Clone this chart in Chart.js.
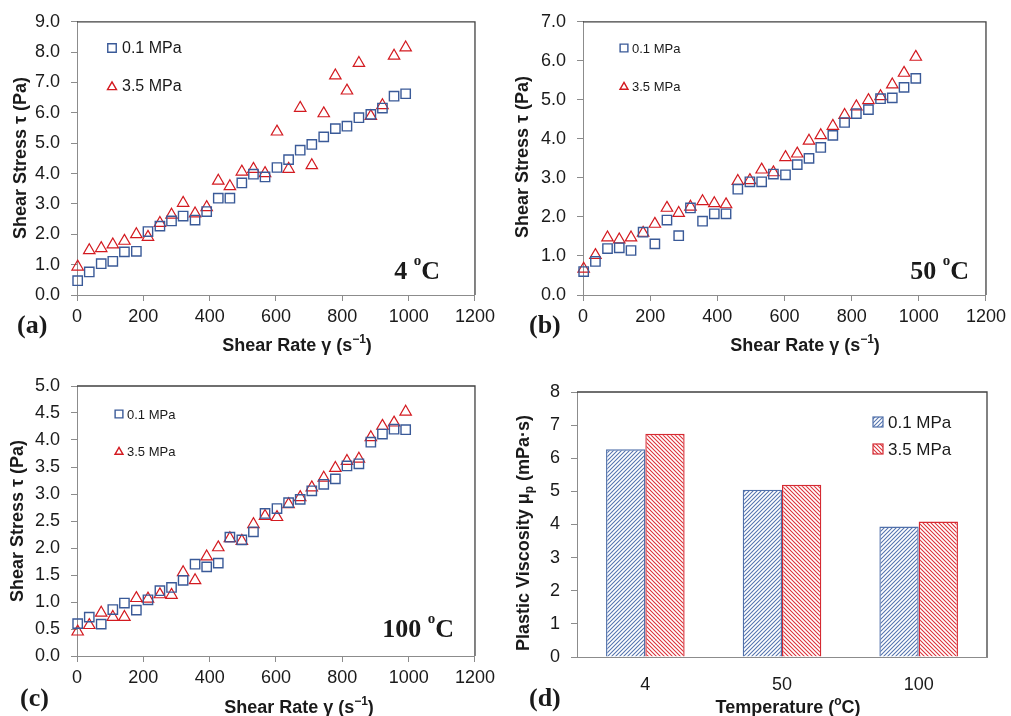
<!DOCTYPE html>
<html>
<head>
<meta charset="utf-8">
<script src="https://cdn.jsdelivr.net/npm/chart.js@4.4.1/dist/chart.umd.min.js"></script>
<style>
  html, body { margin: 0; padding: 0; background: #fff; overflow: hidden; }
  canvas { position: absolute; }
</style>
</head>
<body>
<canvas id="pa" width="500" height="360" style="left:0;top:0"></canvas>
<canvas id="pb" width="511" height="360" style="left:500px;top:0"></canvas>
<canvas id="pc" width="500" height="356" style="left:0;top:360px"></canvas>
<canvas id="pd" width="511" height="356" style="left:500px;top:360px"></canvas>
<script>
// ---- data ----
const shearRate = [2, 37, 73, 108, 143, 179, 214, 250, 285, 320, 356, 391, 426, 461, 497,
                   532, 567, 603, 638, 673, 708, 744, 779, 814, 850, 886, 921, 956, 991];

const stress4C_01 = [0.47, 0.76, 1.03, 1.11, 1.42, 1.44, 2.09, 2.27, 2.44, 2.60, 2.47, 2.75, 3.19, 3.19, 3.69,
                     3.98, 3.89, 4.20, 4.46, 4.77, 4.96, 5.21, 5.48, 5.56, 5.84, 5.95, 6.16, 6.55, 6.63];
const stress4C_35 = [0.93, 1.47, 1.54, 1.66, 1.78, 2.00, 1.91, 2.37, 2.64, 3.03, 2.68, 2.89, 3.76, 3.58, 4.06,
                     4.15, 4.01, 5.38, 4.15, 6.16, 4.27, 5.98, 7.23, 6.73, 7.64, 5.89, 6.25, 7.88, 8.15];

const stress50C_01 = [0.60, 0.86, 1.19, 1.21, 1.14, 1.61, 1.31, 1.92, 1.52, 2.23, 1.89, 2.08, 2.08, 2.71, 2.90,
                      2.90, 3.10, 3.08, 3.34, 3.50, 3.78, 4.09, 4.42, 4.65, 4.75, 5.03, 5.05, 5.32, 5.55];
const stress50C_35 = [0.67, 1.02, 1.47, 1.42, 1.47, 1.59, 1.82, 2.23, 2.10, 2.26, 2.40, 2.35, 2.32, 2.92, 2.94,
                      3.21, 3.14, 3.53, 3.62, 3.95, 4.09, 4.33, 4.61, 4.83, 4.99, 5.09, 5.39, 5.69, 6.10];

const stress100C_01 = [0.60, 0.72, 0.59, 0.86, 0.98, 0.85, 1.04, 1.21, 1.27, 1.40, 1.70, 1.65, 1.72, 2.20, 2.15,
                       2.30, 2.64, 2.73, 2.84, 2.90, 3.06, 3.18, 3.28, 3.52, 3.56, 3.96, 4.11, 4.20, 4.19];
const stress100C_35 = [0.45, 0.57, 0.80, 0.72, 0.72, 1.07, 1.06, 1.14, 1.13, 1.55, 1.40, 1.84, 2.01, 2.18, 2.13,
                       2.44, 2.59, 2.57, 2.81, 2.94, 3.12, 3.30, 3.48, 3.61, 3.65, 4.05, 4.26, 4.32, 4.52];

const temperatures = ['4', '50', '100'];
const viscosity01  = [6.27, 5.05, 3.94];
const viscosity35  = [6.74, 5.20, 4.09];

const seriesNames = ['0.1 MPa', '3.5 MPa'];

// ---- styling ----
const SANS  = '"Liberation Sans", Arial, sans-serif';
const SERIF = '"Liberation Serif", "Times New Roman", serif';
const BLUE  = '#3A5A98';
const RED   = '#D31A20';
const AXIS  = '#8C8C8C';
const FRAME = '#404040';
const INK   = '#1A1A1A';

function hatch(color, forward) {
  const c = document.createElement('canvas');
  c.width = c.height = 4;
  const g = c.getContext('2d');
  g.fillStyle = '#fff';
  g.fillRect(0, 0, 4, 4);
  g.strokeStyle = color;
  g.lineWidth = 1.05;
  g.beginPath();
  if (forward) {          // "/"
    g.moveTo(-1, 5); g.lineTo(5, -1);
    g.moveTo(-1, 1); g.lineTo(1, -1);
    g.moveTo(3, 5);  g.lineTo(5, 3);
  } else {                // "\"
    g.moveTo(-1, -1); g.lineTo(5, 5);
    g.moveTo(3, -1);  g.lineTo(5, 1);
    g.moveTo(-1, 3);  g.lineTo(1, 5);
  }
  g.stroke();
  return g.createPattern(c, 'repeat');
}

// text made of runs, so superscripts / subscripts can be drawn
function rich(ctx, parts, x, y, align, rot) {
  ctx.save();
  ctx.translate(x, y);
  if (rot) ctx.rotate(rot);
  ctx.textBaseline = 'alphabetic';
  ctx.textAlign = 'left';
  ctx.fillStyle = INK;
  const widths = parts.map(p => { ctx.font = p.f; return ctx.measureText(p.t).width; });
  const total = widths.reduce((s, w) => s + w, 0);
  let cx = align === 'center' ? -total / 2 : align === 'right' ? -total : 0;
  parts.forEach((p, i) => {
    ctx.font = p.f;
    ctx.fillText(p.t, cx, p.dy || 0);
    cx += widths[i];
  });
  ctx.restore();
}

const panelDecor = {
  id: 'panelDecor',
  afterDraw(chart, args, o) {
    const ctx = chart.ctx;
    const a = chart.chartArea;

    // top + right frame of the plot area
    ctx.save();
    ctx.strokeStyle = FRAME;
    ctx.lineWidth = 1.3;
    ctx.beginPath();
    ctx.moveTo(a.left, a.top);
    ctx.lineTo(a.right, a.top);
    ctx.lineTo(a.right, a.bottom);
    ctx.stroke();
    ctx.restore();

    // legend
    const L = o.legend;
    chart.data.datasets.forEach((ds, i) => {
      const y = L.y + i * L.dy;
      ctx.save();
      if (L.box) {
        ctx.fillStyle = ds.backgroundColor;
        ctx.fillRect(L.x - 5, y - 5, 10, 10);
        ctx.strokeStyle = ds.borderColor;
        ctx.lineWidth = 1.2;
        ctx.strokeRect(L.x - 5, y - 5, 10, 10);
      } else {
        ctx.strokeStyle = ds.borderColor;
        ctx.fillStyle = 'rgba(0,0,0,0)';
        Chart.helpers.drawPoint(ctx, {
          pointStyle: ds.pointStyle, radius: L.r[i], borderWidth: 1.3, rotation: 0
        }, L.x, y + (ds.pointStyle === 'triangle' ? 1 : 0));
      }
      ctx.fillStyle = INK;
      ctx.font = L.size + 'px ' + SANS;
      ctx.textBaseline = 'middle';
      ctx.fillText(ds.label, L.tx, y + 1);
      ctx.restore();
    });

    // axis titles
    rich(ctx, o.xTitle, o.xTitlePos[0], o.xTitlePos[1], 'center', 0);
    rich(ctx, o.yTitle, o.yTitlePos[0], o.yTitlePos[1], 'center', -Math.PI / 2);

    // panel letter
    rich(ctx, [{ t: o.letter, f: 'bold 26px ' + SERIF }], o.letterPos[0], o.letterPos[1], 'left', 0);

    // temperature tag
    if (o.temp) {
      rich(ctx, [
        { t: o.temp + ' ', f: 'bold 26px ' + SERIF },
        { t: 'o', f: 'bold 15px ' + SERIF, dy: -14 },
        { t: 'C', f: 'bold 26px ' + SERIF }
      ], o.tempPos[0], o.tempPos[1], 'right', 0);
    }
  }
};
Chart.register(panelDecor);

const tickFont = { family: SANS, size: 18 };
const B18 = 'bold 18px ' + SANS;
const B12 = 'bold 12px ' + SANS;

const shearTitle = [
  { t: 'Shear Rate \u03B3 (s', f: B18 },
  { t: '\u22121', f: B12, dy: -8 },
  { t: ')', f: B18 }
];
const stressTitle = [{ t: 'Shear Stress \u03C4 (Pa)', f: B18 }];

function axisBase(extra) {
  return Object.assign({
    grid: { display: true, drawOnChartArea: false, drawTicks: true, tickLength: 6, color: AXIS },
    border: { display: true, color: AXIS, width: 1 },
  }, extra);
}

function scatterPanel(id, s01, s35, yMax, yStep, cfg) {
  const pts = arr => shearRate.map((x, i) => ({ x, y: arr[i] }));
  return new Chart(document.getElementById(id), {
    type: 'scatter',
    data: {
      datasets: [
        {
          label: seriesNames[0], data: pts(s01), pointStyle: 'rect', clip: false,
          pointRadius: 6.6, borderColor: BLUE, backgroundColor: 'rgba(0,0,0,0)', borderWidth: 1.4,
        },
        {
          label: seriesNames[1], data: pts(s35), pointStyle: 'triangle', clip: false,
          pointRadius: 6.6, borderColor: RED, backgroundColor: 'rgba(0,0,0,0)', borderWidth: 1.2,
        },
      ],
    },
    options: {
      responsive: false,
      animation: false,
      events: [],
      layout: { padding: cfg.padding },
      plugins: {
        legend: { display: false },
        tooltip: { enabled: false },
        panelDecor: {
          legend: cfg.legend,
          xTitle: shearTitle, xTitlePos: cfg.xTitlePos,
          yTitle: stressTitle, yTitlePos: cfg.yTitlePos,
          letter: cfg.letter, letterPos: cfg.letterPos,
          temp: cfg.temp, tempPos: cfg.tempPos,
        },
      },
      scales: {
        x: axisBase({
          type: 'linear', min: 0, max: 1200,
          ticks: { stepSize: 200, font: tickFont, color: INK, padding: 5, maxRotation: 0, callback: v => String(v) },
          afterFit: s => { s.height = cfg.xHeight; },
        }),
        y: axisBase({
          min: 0, max: yMax,
          ticks: { stepSize: yStep, font: tickFont, color: INK, padding: 11, callback: v => v.toFixed(1) },
          afterFit: s => { s.width = cfg.yWidth; },
        }),
      },
    },
  });
}

scatterPanel('pa', stress4C_01, stress4C_35, 9, 1, {
  padding: { top: 20, right: 22, left: 0, bottom: 0 }, xHeight: 65, yWidth: 77,
  legend: { x: 112, y: 48, dy: 38, tx: 122, size: 16, r: [6, 5.2] },
  xTitlePos: [297, 351], yTitlePos: [26, 158],
  letter: '(a)', letterPos: [17, 333],
  temp: '4', tempPos: [440, 279],
});

scatterPanel('pb', stress50C_01, stress50C_35, 7, 1, {
  padding: { top: 19, right: 23, left: 0, bottom: 0 }, xHeight: 65, yWidth: 83,
  legend: { x: 124, y: 48, dy: 38, tx: 132, size: 13, r: [5.5, 4.6] },
  xTitlePos: [305, 351], yTitlePos: [28, 157],
  letter: '(b)', letterPos: [29, 333],
  temp: '50', tempPos: [469, 279],
});

scatterPanel('pc', stress100C_01, stress100C_35, 5, 0.5, {
  padding: { top: 26, right: 22, left: 0, bottom: 0 }, xHeight: 60, yWidth: 77,
  legend: { x: 119, y: 54, dy: 37, tx: 127, size: 13, r: [5.5, 4.6] },
  xTitlePos: [299, 353], yTitlePos: [23, 161],
  letter: '(c)', letterPos: [20, 346],
  temp: '100', tempPos: [454, 277],
});

// ---- (d) plastic viscosity bars ----
new Chart(document.getElementById('pd'), {
  type: 'bar',
  data: {
    labels: temperatures,
    datasets: [
      {
        label: seriesNames[0], data: viscosity01,
        backgroundColor: hatch('#5373AE', true), borderColor: '#5070AA', borderWidth: 1.4,
        borderSkipped: 'bottom',
      },
      {
        label: seriesNames[1], data: viscosity35,
        backgroundColor: hatch('#DC3038', false), borderColor: '#D52A32', borderWidth: 1.4,
        borderSkipped: 'bottom',
      },
    ],
  },
  options: {
    responsive: false,
    animation: false,
    events: [],
    layout: { padding: { top: 32, right: 24, left: 0, bottom: 0 } },
    datasets: { bar: { categoryPercentage: 0.575, barPercentage: 1.0 } },
    plugins: {
      legend: { display: false },
      tooltip: { enabled: false },
      panelDecor: {
        legend: { box: true, x: 378, y: 62, dy: 27, tx: 388, size: 17 },
        xTitle: [
          { t: 'Temperature (', f: B18 },
          { t: 'o', f: B12, dy: -8 },
          { t: 'C)', f: B18 },
        ],
        xTitlePos: [288, 353],
        yTitle: [
          { t: 'Plastic Viscosity \u03BC', f: B18 },
          { t: 'p', f: B12, dy: 4 },
          { t: ' (mPa\u00B7s)', f: B18 },
        ],
        yTitlePos: [29, 173],
        letter: '(d)', letterPos: [29, 346],
        temp: null,
      },
    },
    scales: {
      x: {
        grid: { display: false, drawTicks: false },
        border: { display: true, color: AXIS, width: 1 },
        ticks: { font: tickFont, color: INK, padding: 17 },
        afterFit: s => { s.height = 59; },
      },
      y: axisBase({
        min: 0, max: 8,
        ticks: { stepSize: 1, font: tickFont, color: INK, padding: 11 },
        afterFit: s => { s.width = 77; },
      }),
    },
  },
});
</script>
</body>
</html>
